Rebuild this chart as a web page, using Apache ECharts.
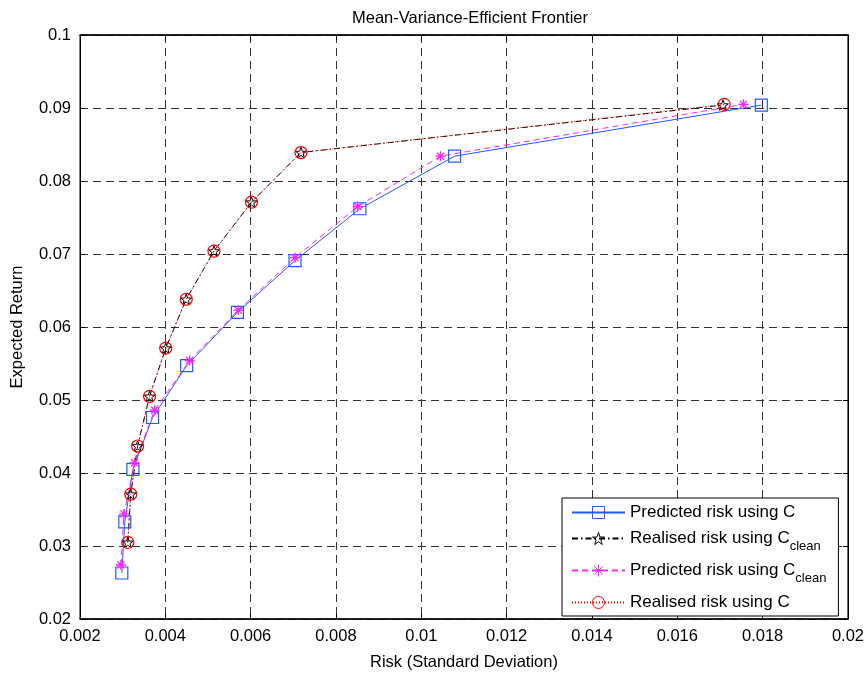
<!DOCTYPE html>
<html>
<head>
<meta charset="utf-8">
<script src="https://cdn.jsdelivr.net/npm/echarts@6/dist/echarts.min.js"></script>
<style>html,body{margin:0;padding:0;background:#fff}#c{width:867px;height:676px}</style>
</head>
<body>
<div id="c"></div>
<script>
// ---- data ----
const xTicks = [0.002, 0.004, 0.006, 0.008, 0.01, 0.012, 0.014, 0.016, 0.018, 0.02];
const yTicks = [0.02, 0.03, 0.04, 0.05, 0.06, 0.07, 0.08, 0.09, 0.1];
const seriesNames = ['Predicted risk using C', 'Realised risk using C_clean', 'Predicted risk using C_clean', 'Realised risk using C'];

const predCRisk   = [0.00298, 0.00305, 0.00324, 0.00370, 0.00450, 0.00569, 0.00704, 0.00856, 0.01078, 0.01797];
const predCRet    = [0.0263, 0.0333, 0.0405, 0.0476, 0.0547, 0.0620, 0.0691, 0.0762, 0.0834, 0.0904];
const realCcRisk  = [0.00312, 0.00319, 0.00335, 0.00363, 0.00401, 0.00449, 0.00514, 0.00602, 0.00718, 0.01707];
const realCcRet   = [0.0305, 0.0371, 0.0437, 0.0505, 0.0571, 0.0638, 0.0704, 0.0771, 0.0839, 0.0904];
const predCcRisk  = [0.00296, 0.00303, 0.00328, 0.00375, 0.00457, 0.00571, 0.00704, 0.00851, 0.01045, 0.01755];
const predCcRet   = [0.0274, 0.0344, 0.0414, 0.0486, 0.0554, 0.0623, 0.0695, 0.0765, 0.0834, 0.0905];
const realCRisk   = [0.00312, 0.00319, 0.00335, 0.00363, 0.00401, 0.00449, 0.00514, 0.00602, 0.00718, 0.01710];
const realCRet    = [0.0305, 0.0371, 0.0437, 0.0505, 0.0571, 0.0638, 0.0704, 0.0771, 0.0839, 0.0905];

// ---- build ----
const pairs = (xs, ys) => xs.map((x, i) => [x, ys[i]]);
const FONT = "'Liberation Sans', Arial, Helvetica, sans-serif";
const FS = 16.5;
const fmt = v => String(parseFloat(v.toFixed(4)));
const STAR = 'path://M10 0 L12.35 6.76 L19.51 6.91 L13.80 11.24 L15.88 18.09 L10 14 L4.12 18.09 L6.20 11.24 L0.49 6.91 L7.65 6.76 Z';
const ASTER = 'path://M5 0 L5 10 M0 5 L10 5 M1.5 1.5 L8.5 8.5 M1.5 8.5 L8.5 1.5';
const BLUE = '#1f5bff', MAG = '#ff22ff', RED = '#ff0000';

const gridLine = { show: true, lineStyle: { color: '#333', width: 1, type: [8, 5] } };
const xBase = { type: 'value', min: xTicks[0], max: xTicks[xTicks.length - 1], interval: xTicks[1] - xTicks[0] };
const yBase = { type: 'value', min: yTicks[0], max: yTicks[yTicks.length - 1], interval: 0.01 };

const option = {
  animation: false,
  backgroundColor: '#fff',
  textStyle: { fontFamily: FONT },
  title: {
    text: 'Mean-Variance-Efficient Frontier',
    left: 465, top: 5, textAlign: 'center',
    textStyle: { fontFamily: FONT, fontSize: FS, fontWeight: 'normal', color: '#000' }
  },
  grid: { left: 80, right: 16, top: 35, bottom: 53, show: true, borderColor: '#000', borderWidth: 1 },
  xAxis: [
    Object.assign({}, xBase, {
      position: 'bottom',
      name: 'Risk (Standard Deviation)', nameLocation: 'middle', nameGap: 35,
      nameTextStyle: { fontFamily: FONT, fontSize: FS, color: '#000' },
      axisLine: { show: true, lineStyle: { color: '#000', width: 1.5 } },
      axisTick: { show: true, inside: true, length: 5, lineStyle: { color: '#000' } },
      axisLabel: { formatter: fmt, margin: 9, fontFamily: FONT, fontSize: FS, color: '#000' },
      splitLine: gridLine
    }),
    Object.assign({}, xBase, {
      position: 'top',
      axisLine: { show: true, lineStyle: { color: '#000', width: 1.5 } },
      axisTick: { show: true, inside: true, length: 5, lineStyle: { color: '#000' } },
      axisLabel: { show: false },
      splitLine: { show: false }
    })
  ],
  yAxis: [
    Object.assign({}, yBase, {
      position: 'left',
      name: 'Expected Return', nameLocation: 'middle', nameGap: 54,
      nameTextStyle: { fontFamily: FONT, fontSize: FS, color: '#000' },
      axisLine: { show: true, lineStyle: { color: '#000', width: 1 } },
      axisTick: { show: true, inside: true, length: 5, lineStyle: { color: '#000' } },
      axisLabel: { formatter: fmt, margin: 9, fontFamily: FONT, fontSize: FS, color: '#000' },
      splitLine: gridLine
    }),
    Object.assign({}, yBase, {
      position: 'right',
      axisLine: { show: true, lineStyle: { color: '#000', width: 1 } },
      axisTick: { show: true, inside: true, length: 5, lineStyle: { color: '#000' } },
      axisLabel: { show: false },
      splitLine: { show: false }
    })
  ],
  legend: {
    orient: 'vertical', left: 562, top: 498,
    backgroundColor: '#fff', borderColor: '#000', borderWidth: 1,
    padding: [6, 12, 5, 9],
    itemWidth: 53, itemHeight: 15, itemGap: 9,
    itemStyle: { borderWidth: 1 },
    data: seriesNames,
    formatter: n => n.replace('_clean', '{sub|clean}'),
    textStyle: {
      fontFamily: FONT, fontSize: 17, color: '#000',
      rich: { sub: { fontFamily: FONT, fontSize: 13, color: '#000', verticalAlign: 'bottom', padding: [16, 0, 0, 0] } }
    }
  },
  series: [
    {
      name: seriesNames[0], type: 'line', data: pairs(predCRisk, predCRet),
      symbol: 'rect', symbolSize: 12,
      itemStyle: { color: 'rgba(0,0,0,0)', borderColor: BLUE, borderWidth: 1.2 },
      lineStyle: { color: BLUE, width: 1, type: 'solid' }
    },
    {
      name: seriesNames[1], type: 'line', data: pairs(realCcRisk, realCcRet),
      symbol: STAR, symbolSize: 11, symbolKeepAspect: true,
      itemStyle: { color: 'rgba(0,0,0,0)', borderColor: '#000', borderWidth: 1 },
      lineStyle: { color: '#000', width: 1, type: [6, 3, 1.5, 3] }
    },
    {
      name: seriesNames[2], type: 'line', data: pairs(predCcRisk, predCcRet),
      symbol: ASTER, symbolSize: 10, symbolKeepAspect: true,
      itemStyle: { color: MAG, borderColor: MAG, borderWidth: 1.3 },
      lineStyle: { color: MAG, width: 1, type: [6, 4] }
    },
    {
      name: seriesNames[3], type: 'line', data: pairs(realCRisk, realCRet),
      symbol: 'circle', symbolSize: 12,
      itemStyle: { color: 'rgba(0,0,0,0)', borderColor: RED, borderWidth: 1.2 },
      lineStyle: { color: RED, width: 1, type: [1, 2] }
    }
  ]
};
echarts.init(document.getElementById('c'), null, { renderer: 'canvas' }).setOption(option);
</script>
</body>
</html>
